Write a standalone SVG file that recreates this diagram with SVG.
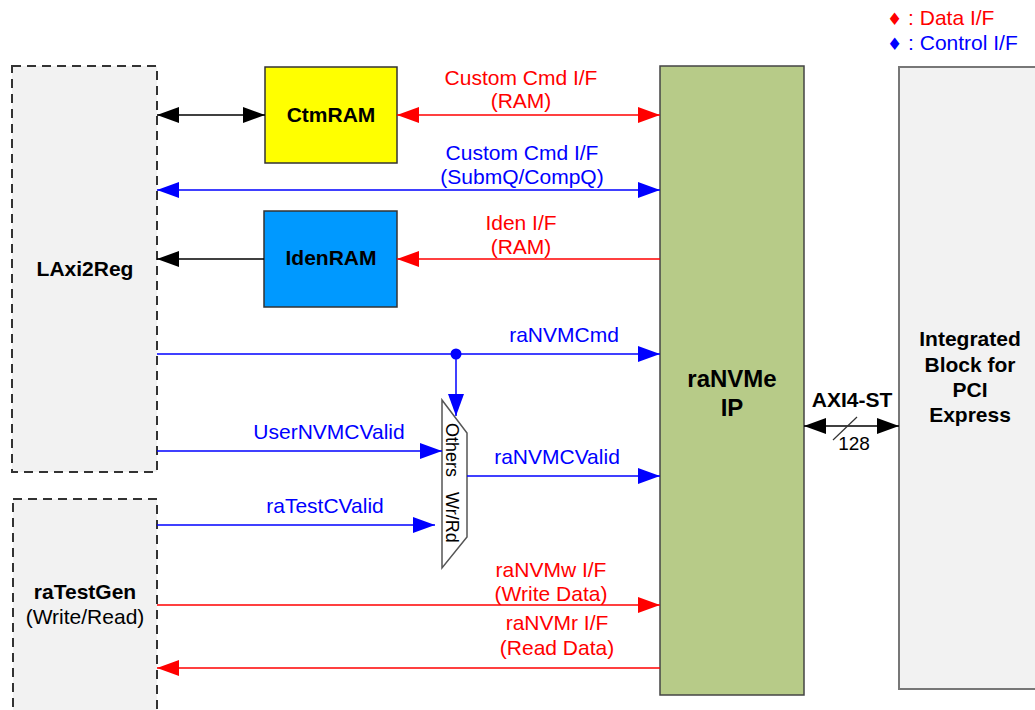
<svg xmlns="http://www.w3.org/2000/svg" width="1035" height="710" viewBox="0 0 1035 710">
<style>
text{font-family:"Liberation Sans",Arial,sans-serif;font-size:21px}
.b{font-weight:bold;fill:#000}
.c{text-anchor:middle}
.r{fill:#FF0000}
.u{fill:#0000FF}
.big{font-size:24px}
.mx{font-size:18px;fill:#000}
.sm{font-size:19px;fill:#000}
.lr{stroke:#FF0000;stroke-width:1.5;fill:none}
.lu{stroke:#0000FF;stroke-width:1.5;fill:none}
.lk{stroke:#000;stroke-width:1.5;fill:none}
.dash{fill:#F2F2F2;stroke:#333;stroke-width:2;stroke-dasharray:9,6}
</style>
<defs>
<marker id="ar" markerUnits="userSpaceOnUse" markerWidth="23" markerHeight="17" refX="22" refY="8" orient="auto-start-reverse"><path d="M0,0 L22,8 L0,16 z" fill="#FF0000"/></marker>
<marker id="au" markerUnits="userSpaceOnUse" markerWidth="23" markerHeight="17" refX="22" refY="8" orient="auto-start-reverse"><path d="M0,0 L22,8 L0,16 z" fill="#0000FF"/></marker>
<marker id="ak" markerUnits="userSpaceOnUse" markerWidth="23" markerHeight="17" refX="22" refY="8" orient="auto-start-reverse"><path d="M0,0 L22,8 L0,16 z" fill="#000"/></marker>
</defs>
<rect width="1035" height="710" fill="#fff"/>

<g id="legend">
<text x="887" y="25" class="r"><tspan font-family="DejaVu Sans" style="font-size:17px">♦</tspan> : Data I/F</text>
<text x="887" y="50" class="u"><tspan font-family="DejaVu Sans" style="font-size:17px">♦</tspan> : Control I/F</text>
</g>

<g id="LAxi2Reg">
<rect x="12" y="66" width="145" height="406" class="dash"/>
<text x="85" y="276" class="b c">LAxi2Reg</text>
</g>
<g id="raTestGen">
<rect x="13" y="499" width="144" height="230" class="dash"/>
<text x="85" y="599" class="b c">raTestGen</text>
<text x="85" y="624" class="c">(Write/Read)</text>
</g>
<g id="CtmRAM">
<rect x="265" y="67" width="132" height="96" fill="#FFFF00" stroke="#333" stroke-width="1.5"/>
<text x="331" y="122" class="b c">CtmRAM</text>
</g>
<g id="IdenRAM">
<rect x="264" y="211" width="133" height="96" fill="#0099FF" stroke="#333" stroke-width="1.5"/>
<text x="331" y="265" class="b c">IdenRAM</text>
</g>
<g id="raNVMeIP">
<rect x="660" y="66" width="144" height="629" fill="#B7CB88" stroke="#444" stroke-width="1.5"/>
<text x="732" y="387" class="b c big">raNVMe</text>
<text x="732" y="416" class="b c big">IP</text>
</g>
<g id="PCIe">
<rect x="899" y="67" width="150" height="622" fill="#F2F2F2" stroke="#777" stroke-width="2"/>
<text class="b c"><tspan x="970" y="346">Integrated</tspan><tspan x="970" y="372">Block for</tspan><tspan x="970" y="397">PCI</tspan><tspan x="970" y="422">Express</tspan></text>
</g>
<g id="mux">
<polygon points="442,400 467,433 467,537 442,568" fill="#fff" stroke="#555" stroke-width="1.5"/>
<text transform="translate(446,423) rotate(90)" class="mx">Others</text>
<text transform="translate(446,492) rotate(90)" class="mx">Wr/Rd</text>
</g>

<g id="connectors">
<line x1="157" y1="115" x2="265" y2="115" class="lk" marker-start="url(#ak)" marker-end="url(#ak)"/>
<line x1="397" y1="115" x2="660" y2="115" class="lr" marker-start="url(#ar)" marker-end="url(#ar)"/>
<line x1="157" y1="190" x2="660" y2="190" class="lu" marker-start="url(#au)" marker-end="url(#au)"/>
<line x1="660" y1="259" x2="397" y2="259" class="lr" marker-end="url(#ar)"/>
<line x1="264" y1="259" x2="157" y2="259" class="lk" marker-end="url(#ak)"/>
<line x1="157" y1="354" x2="660" y2="354" class="lu" marker-end="url(#au)"/>
<circle cx="456" cy="354" r="5.5" fill="#0000FF"/>
<line x1="456" y1="354" x2="456" y2="416" class="lu" marker-end="url(#au)"/>
<line x1="157" y1="451" x2="442" y2="451" class="lu" marker-end="url(#au)"/>
<line x1="157" y1="525" x2="435" y2="525" class="lu" marker-end="url(#au)"/>
<line x1="467" y1="476" x2="660" y2="476" class="lu" marker-end="url(#au)"/>
<line x1="157" y1="605" x2="660" y2="605" class="lr" marker-end="url(#ar)"/>
<line x1="660" y1="668" x2="157" y2="668" class="lr" marker-end="url(#ar)"/>
<line x1="804" y1="426" x2="899" y2="426" class="lk" marker-start="url(#ak)" marker-end="url(#ak)"/>
<line x1="833" y1="440" x2="857" y2="417" stroke="#333" stroke-width="1.2"/>
</g>

<g id="labels">
<text x="521" y="85" class="r c">Custom Cmd I/F</text>
<text x="521" y="108" class="r c">(RAM)</text>
<text x="522" y="160" class="u c">Custom Cmd I/F</text>
<text x="522" y="184" class="u c">(SubmQ/CompQ)</text>
<text x="521" y="230" class="r c">Iden I/F</text>
<text x="521" y="254" class="r c">(RAM)</text>
<text x="564" y="342" class="u c">raNVMCmd</text>
<text x="329" y="439" class="u c">UserNVMCValid</text>
<text x="557" y="464" class="u c">raNVMCValid</text>
<text x="325" y="513" class="u c">raTestCValid</text>
<text x="551" y="577" class="r c">raNVMw I/F</text>
<text x="551" y="601" class="r c">(Write Data)</text>
<text x="557" y="630" class="r c">raNVMr I/F</text>
<text x="557" y="655" class="r c">(Read Data)</text>
<text x="852" y="407" class="b c">AXI4-ST</text>
<text x="854" y="450" class="c sm">128</text>
</g>
</svg>
